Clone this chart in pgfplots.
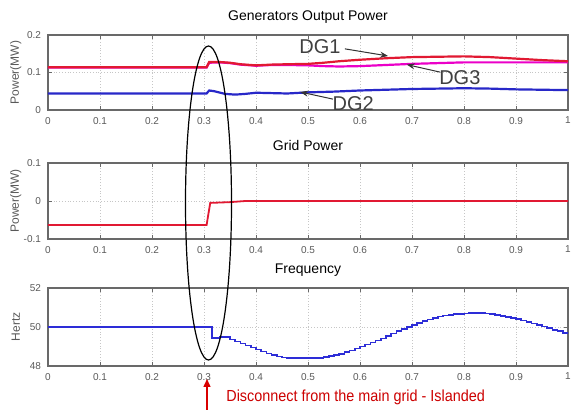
\documentclass[border=0pt]{standalone}
\usepackage{pgfplots}
\pgfplotsset{compat=1.18}
\usepackage{fontspec}
\setmainfont{Liberation Sans}
\usetikzlibrary{arrows.meta}
\definecolor{dgred}{RGB}{225,25,50}
\definecolor{dgmag}{RGB}{235,0,200}
\definecolor{dgblue}{RGB}{40,40,200}
\definecolor{fblue}{RGB}{45,45,215}
\definecolor{axgray}{RGB}{105,105,105}
\pgfplotsset{mat/.style={
  scale only axis, width=260pt, xmin=0, xmax=1,
  xtick={0,0.1,0.2,0.3,0.4,0.5,0.6,0.7,0.8,0.9,1},
  xticklabels={0,0.1,0.2,0.3,0.4,0.5,0.6,0.7,0.8,0.9,1},
  grid=major, grid style={densely dotted, gray!45, line width=0.3pt},
  axis line style={axgray, line width=0.7pt},
  tick style={axgray, line width=0.4pt},
  tick align=inside, major tick length=2pt, tick pos=both,
  xticklabel pos=bottom, yticklabel pos=left,
  ticklabel style={font=\fontsize{5}{6}\selectfont, text=black!65},
  every axis title/.style={at={(0.5,1)}, anchor=south, yshift=2.5pt, font=\fontsize{7}{8}\selectfont},
  every axis y label/.style={at={(axis description cs:-0.062,0.5)}, rotate=90, anchor=center, font=\fontsize{6}{7}\selectfont, text=black!65},
}}
\begin{document}
\begin{tikzpicture}
\path[use as bounding box] (-24pt,-22pt) rectangle (264.5pt,183pt);
% top axis
\begin{axis}[mat, at={(0,128pt)}, height=37.5pt, ymin=0, ymax=0.2,
  ytick={0,0.1,0.2}, yticklabels={0,0.1,0.2}, ylabel={Power(MW)},
  title={Generators Output Power}, clip=false]
\addplot[dgmag, line width=1.1pt] coordinates {
(0,0.113)(0.305,0.113)(0.31,0.126)(0.33,0.127)(0.35,0.125)(0.37,0.121)(0.40,0.118)
(0.43,0.120)(0.46,0.120)(0.50,0.119)(0.53,0.117)(0.56,0.116)(0.60,0.117)(0.65,0.120)
(0.70,0.123)(0.75,0.125)(0.80,0.127)(0.85,0.127)(0.90,0.127)(0.95,0.127)(1.00,0.127)};
\addplot[dgred, line width=1.1pt] coordinates {
(0,0.114)(0.305,0.114)(0.31,0.128)(0.33,0.128)(0.35,0.126)(0.37,0.122)(0.40,0.119)
(0.43,0.121)(0.46,0.122)(0.50,0.123)(0.53,0.126)(0.56,0.130)(0.60,0.134)(0.65,0.138)
(0.70,0.141)(0.75,0.142)(0.80,0.143)(0.85,0.141)(0.90,0.137)(0.95,0.133)(1.00,0.130)};
\addplot[dgblue, line width=1.1pt] coordinates {
(0,0.044)(0.305,0.044)(0.31,0.052)(0.32,0.050)(0.34,0.043)(0.36,0.041)(0.38,0.043)
(0.40,0.046)(0.43,0.045)(0.46,0.044)(0.50,0.047)(0.55,0.049)(0.60,0.052)(0.65,0.054)
(0.70,0.056)(0.75,0.057)(0.80,0.058)(0.85,0.057)(0.90,0.055)(0.95,0.054)(1.00,0.053)};
\node[font=\fontsize{10}{11}\selectfont, text=black!75] at (axis cs:0.523,0.168) {DG1};
\draw[-{Stealth[length=4pt,width=3pt]}, black!80, line width=0.5pt] (axis cs:0.571,0.163) -- (axis cs:0.654,0.144);
\node[font=\fontsize{10}{11}\selectfont, text=black!75] at (axis cs:0.792,0.085) {DG3};
\draw[-{Stealth[length=4pt,width=3pt]}, black!80, line width=0.5pt] (axis cs:0.754,0.101) -- (axis cs:0.69,0.121);
\node[font=\fontsize{10}{11}\selectfont, text=black!75] at (axis cs:0.587,0.016) {DG2};
\draw[-{Stealth[length=4pt,width=3pt]}, black!80, line width=0.5pt] (axis cs:0.548,0.029) -- (axis cs:0.485,0.048);
\end{axis}
% middle axis
\begin{axis}[mat, at={(0,63.5pt)}, height=38pt, ymin=-0.1, ymax=0.1,
  ytick={-0.1,0,0.1}, yticklabels={-0.1,0,0.1}, ylabel={Power(MW)},
  title={Grid Power}]
\addplot[dgred, line width=0.9pt] coordinates {
(0,-0.063)(0.305,-0.063)(0.312,-0.005)(0.35,-0.003)(0.38,0)(1.0,0)};
\end{axis}
% bottom axis
\begin{axis}[mat, at={(0,0)}, height=39pt, ymin=48, ymax=52,
  ytick={48,50,52}, yticklabels={48,50,52}, ylabel={Hertz},
  title={Frequency}]
\addplot[fblue, line width=0.8pt, const plot] coordinates {
(0,50)(0.315,49.45)(0.33,49.5)(0.35,49.35)(0.36,49.25)(0.37,49.15)(0.38,49.05)
(0.39,48.95)(0.40,48.85)(0.41,48.75)(0.42,48.65)(0.43,48.55)(0.44,48.48)(0.45,48.43)
(0.46,48.42)(0.52,48.42)(0.53,48.45)(0.54,48.5)(0.55,48.56)(0.56,48.63)(0.57,48.71)
(0.58,48.8)(0.59,48.9)(0.60,49.0)(0.61,49.1)(0.62,49.2)(0.63,49.3)(0.64,49.42)
(0.65,49.54)(0.66,49.66)(0.67,49.78)(0.68,49.9)(0.69,50.0)(0.70,50.1)(0.71,50.2)
(0.72,50.3)(0.73,50.38)(0.74,50.46)(0.75,50.53)(0.76,50.58)(0.77,50.63)(0.78,50.66)
(0.79,50.68)(0.80,50.7)(0.81,50.71)(0.82,50.72)(0.83,50.71)(0.84,50.69)(0.85,50.66)
(0.86,50.62)(0.87,50.57)(0.88,50.52)(0.89,50.46)(0.90,50.4)(0.91,50.33)(0.92,50.26)
(0.93,50.18)(0.94,50.1)(0.95,50.02)(0.96,49.94)(0.97,49.86)(0.98,49.78)(0.99,49.7)(1.00,49.65)};
\end{axis}
% annotations
\draw[black, line width=0.6pt] (80.25pt,81.5pt) ellipse [x radius=11.5pt, y radius=78.5pt];
\draw[-{Triangle[length=4pt,width=3.5pt]}, red!85!black, line width=0.7pt] (79.5pt,-22pt) -- (79.5pt,-6.5pt);
\node[anchor=west, text=red!80!black, font=\fontsize{8}{9}\selectfont, xscale=0.9] at (86pt,-15.5pt) {Disconnect from the main grid - Islanded};
\end{tikzpicture}
\end{document}
